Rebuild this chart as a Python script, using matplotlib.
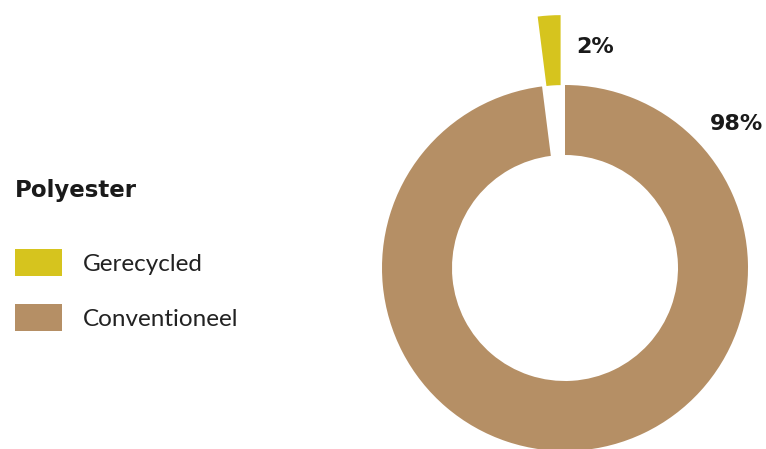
import matplotlib.pyplot as plt
from matplotlib.transforms import IdentityTransform

plt.rcParams['font.family'] = ['Lato', 'DejaVu Sans']

title = 'Polyester'
labels = ['Gerecycled', 'Conventioneel']
shares = [2, 98]
pct_labels = ['2%', '98%']
colors = ['#d6c41e', '#b58f65']

W, H = 766, 449
fig = plt.figure(figsize=(W / 100, H / 100), dpi=100)
ax = fig.add_axes([0, 0, 1, 1])

# donut, yellow slice pulled out upwards (explode is in data units here)
cx, cy, r = 565, H - 268, 183
wedges, _ = ax.pie(shares, colors=colors, startangle=90, counterclock=True,
                   explode=[70, 0], radius=r, center=(cx, cy),
                   wedgeprops=dict(width=70, linewidth=0))
ax.set_xlim(0, W)
ax.set_ylim(0, H)
ax.set_aspect('auto')
ax.axis('off')

bold = dict(family='DejaVu Sans', fontweight='bold', color='#1a1a1a')
ax.text(576, H - 47, pct_labels[0], fontsize=16, va='center', ha='left', **bold)
ax.text(710, H - 124, pct_labels[1], fontsize=16, va='center', ha='left', **bold)

fig.text(15 / W, 1 - 190 / H, title, fontsize=16.5, va='center', ha='left', **bold)

leg = fig.legend(wedges, labels, loc='upper left',
                 bbox_to_anchor=(15, H - 249), bbox_transform=IdentityTransform(),
                 frameon=False, fontsize=17.5, handlelength=1.92, handleheight=1.34,
                 handletextpad=0.86, labelspacing=1.15, borderpad=0, borderaxespad=0)
for t in leg.get_texts():
    t.set_color('#222222')

fig.savefig('out.png', dpi=100)
